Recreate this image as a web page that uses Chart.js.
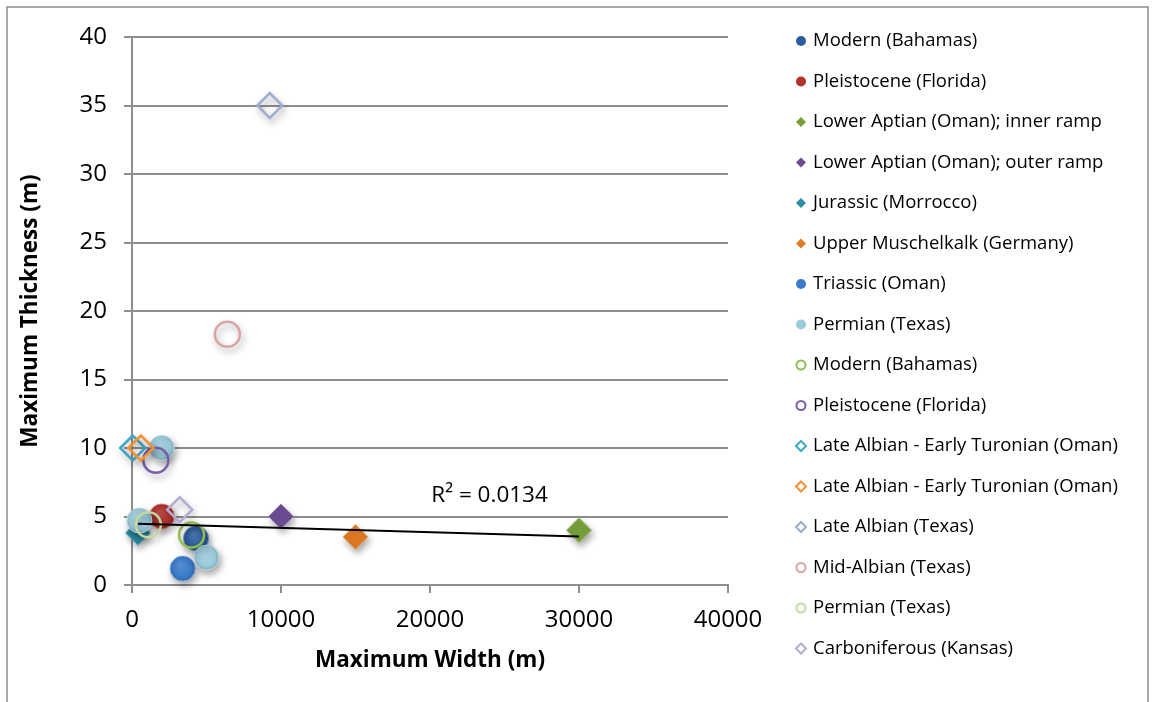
<!DOCTYPE html>
<html>
<head>
<meta charset="utf-8">
<title>Maximum Width vs Maximum Thickness</title>
<script src="https://cdn.jsdelivr.net/npm/chart.js@4.4.1/dist/chart.umd.min.js"></script>
<style>
  html, body { margin: 0; padding: 0; background: #fff; }
  #wrap { position: relative; width: 1157px; height: 702px; }
</style>
</head>
<body>
<div id="wrap"><canvas id="scatter" width="1157" height="702"></canvas></div>
<script>
// series names, in legend order
const seriesNames = [
  'Modern (Bahamas)',
  'Pleistocene (Florida)',
  'Lower Aptian (Oman); inner ramp',
  'Lower Aptian (Oman); outer ramp',
  'Jurassic (Morrocco)',
  'Upper Muschelkalk (Germany)',
  'Triassic (Oman)',
  'Permian (Texas)',
  'Modern (Bahamas)',
  'Pleistocene (Florida)',
  'Late Albian - Early Turonian (Oman)',
  'Late Albian - Early Turonian (Oman)',
  'Late Albian (Texas)',
  'Mid-Albian (Texas)',
  'Permian (Texas)',
  'Carboniferous (Kansas)'
];

// maximum width (m) per series
const maxWidth = [
  [4300], [2000], [30000], [10000], [400], [15000], [3400], [2000, 500, 5000],
  [4000], [1600], [50], [600], [9250], [6400], [1100], [3200]
];

// maximum thickness (m) per series
const maxThickness = [
  [3.4], [5], [4], [5], [3.8], [3.5], [1.2], [10, 4.7, 2],
  [3.65], [9.1], [10], [10], [35], [18.3], [4.4], [5.5]
];

const xTicks = [0, 10000, 20000, 30000, 40000];
const yTicks = [0, 5, 10, 15, 20, 25, 30, 35, 40];
const rSquaredText = 'R\u00b2 = 0.0134';

// marker look
const colors = [
  '#2c5e9e', '#b3302c', '#77a03b', '#6b4c93', '#2b8ea6', '#e07a23', '#3a7bcb', '#9ccbdc',
  '#93bd4c', '#7a5eaa', '#40a8c4', '#f59236', '#9eaed0', '#d9a3a3', '#c4d9a0', '#b4aad2'
];
const shapes = [
  'circle', 'circle', 'rectRot', 'rectRot', 'rectRot', 'rectRot', 'circle', 'circle',
  'circle', 'circle', 'rectRot', 'rectRot', 'rectRot', 'circle', 'circle', 'rectRot'
];
const filled = [true, true, true, true, true, true, true, true,
                false, false, false, false, false, false, false, false];

const FONT = "'Open Sans', 'Noto Sans', sans-serif";

function shade(hex, amt) {
  const n = parseInt(hex.slice(1), 16);
  let r = (n >> 16) & 255, g = (n >> 8) & 255, b = n & 255;
  const f = c => Math.max(0, Math.min(255, Math.round(amt >= 0 ? c + (255 - c) * amt : c * (1 + amt))));
  return `rgb(${f(r)},${f(g)},${f(b)})`;
}

// least squares line over the filled series
function trendLine() {
  const xs = [], ys = [];
  for (let i = 0; i < 8; i++) {
    maxWidth[i].forEach((x, j) => { xs.push(x); ys.push(maxThickness[i][j]); });
  }
  const n = xs.length;
  const mx = xs.reduce((a, b) => a + b, 0) / n;
  const my = ys.reduce((a, b) => a + b, 0) / n;
  let sxy = 0, sxx = 0;
  for (let k = 0; k < n; k++) {
    sxy += (xs[k] - mx) * (ys[k] - my);
    sxx += (xs[k] - mx) ** 2;
  }
  const slope = sxy / sxx;
  const icpt = my - slope * mx;
  const x0 = Math.min(...xs), x1 = Math.max(...xs);
  return [{ x: x0, y: icpt + slope * x0 }, { x: x1, y: icpt + slope * x1 }];
}

// shaded fill for the solid round markers
function markerFill(i) {
  return function (ctx) {
    const base = colors[i];
    if (shapes[i] !== 'circle' || ctx.type !== 'data' || !ctx.parsed) return base;
    const c = ctx.chart;
    const px = c.scales.x.getPixelForValue(ctx.parsed.x);
    const py = c.scales.y.getPixelForValue(ctx.parsed.y);
    if (!isFinite(px) || !isFinite(py)) return base;
    const r = 12.5;
    const g = c.ctx.createRadialGradient(px - r * 0.2, py - r * 0.35, 1, px, py, r);
    g.addColorStop(0, shade(base, 0.15));
    g.addColorStop(0.75, base);
    g.addColorStop(1, shade(base, -0.15));
    return g;
  };
}

const datasets = seriesNames.map((name, i) => ({
  label: name,
  data: maxWidth[i].map((x, j) => ({ x: x, y: maxThickness[i][j] })),
  pointStyle: shapes[i],
  pointRadius: 12.5,
  pointHoverRadius: 12.5,
  backgroundColor: filled[i] ? markerFill(i) : 'rgba(0,0,0,0)',
  borderColor: filled[i] ? shade(colors[i], 0.35) : colors[i],
  borderWidth: filled[i] ? 1 : 2.5,
  showLine: false,
  clip: false,
  order: -i
}));

datasets.push({
  label: 'trend',
  type: 'line',
  data: trendLine(),
  borderColor: '#000',
  borderWidth: 2,
  pointRadius: 0,
  fill: false,
  clip: false,
  order: -100
});

// soft drop shadow under the markers
const markerShadow = {
  id: 'markerShadow',
  beforeDatasetDraw(chart, args) {
    if (args.index >= seriesNames.length) return;
    const ctx = chart.ctx;
    ctx.save();
    ctx.shadowColor = 'rgba(0,0,0,0.35)';
    ctx.shadowBlur = 7;
    ctx.shadowOffsetX = 2;
    ctx.shadowOffsetY = 4;
  },
  afterDatasetDraw(chart, args) {
    if (args.index >= seriesNames.length) return;
    chart.ctx.restore();
  }
};

// outer frame, R² label and the series key on the right
const decorations = {
  id: 'decorations',
  beforeDraw(chart) {
    const ctx = chart.ctx;
    ctx.save();
    ctx.strokeStyle = '#8c8c8c';
    ctx.lineWidth = 1.5;
    ctx.strokeRect(7, 7, 1141, 720);
    ctx.restore();
  },
  afterDraw(chart) {
    const ctx = chart.ctx;
    const { x, y } = chart.scales;
    ctx.save();
    ctx.fillStyle = '#000';
    ctx.font = `22.5px ${FONT}`;
    ctx.textAlign = 'center';
    ctx.textBaseline = 'middle';
    ctx.fillText(rSquaredText, x.getPixelForValue(24000), y.getPixelForValue(6.5));

    ctx.font = `18.5px ${FONT}`;
    ctx.textAlign = 'left';
    seriesNames.forEach((name, i) => {
      const cy = 41 + i * 40.5;
      const cx = 801;
      const r = 5;
      ctx.beginPath();
      if (shapes[i] === 'circle') {
        ctx.arc(cx, cy, filled[i] ? r : r - 0.5, 0, Math.PI * 2);
      } else {
        ctx.moveTo(cx - r, cy);
        ctx.lineTo(cx, cy - r);
        ctx.lineTo(cx + r, cy);
        ctx.lineTo(cx, cy + r);
        ctx.closePath();
      }
      if (filled[i]) {
        ctx.fillStyle = colors[i];
        ctx.fill();
      } else {
        ctx.strokeStyle = colors[i];
        ctx.lineWidth = 2;
        ctx.stroke();
      }
      ctx.fillStyle = '#000';
      ctx.fillText(name, 813, cy);
    });
    ctx.restore();
  }
};

const axisGrey = '#8e8e8e';

new Chart(document.getElementById('scatter'), {
  type: 'scatter',
  data: { datasets: datasets },
  options: {
    responsive: false,
    animation: false,
    events: [],
    layout: { padding: { top: 37, left: 0, right: 429, bottom: 0 } },
    plugins: {
      legend: { display: false },
      tooltip: { enabled: false }
    },
    scales: {
      x: {
        type: 'linear',
        min: xTicks[0],
        max: xTicks[xTicks.length - 1],
        afterBuildTicks: s => { s.ticks = xTicks.map(v => ({ value: v })); },
        afterFit: s => { s.height = 117; },
        ticks: {
          color: '#000',
          font: { family: FONT, size: 24 },
          padding: 13,
          maxRotation: 0,
          callback: v => String(v)
        },
        grid: { drawOnChartArea: false, drawTicks: true, tickLength: 8, color: axisGrey, lineWidth: 2 },
        border: { display: true, color: axisGrey, width: 2 },
        title: {
          display: true,
          text: 'Maximum Width (m)',
          color: '#000',
          font: { family: FONT, size: 22.5, weight: 'bold' },
          padding: { top: 0, bottom: 28 }
        }
      },
      y: {
        type: 'linear',
        min: yTicks[0],
        max: yTicks[yTicks.length - 1],
        afterBuildTicks: s => { s.ticks = yTicks.map(v => ({ value: v })); },
        afterFit: s => { s.width = 132; },
        ticks: { color: '#000', font: { family: FONT, size: 24 }, padding: 17 },
        grid: { color: axisGrey, lineWidth: 2, tickLength: 8 },
        border: { display: true, color: axisGrey, width: 2 },
        title: {
          display: true,
          text: 'Maximum Thickness (m)',
          color: '#000',
          font: { family: FONT, size: 22.5, weight: 'bold' },
          padding: { top: 17, bottom: 0 }
        }
      }
    }
  },
  plugins: [markerShadow, decorations]
});
</script>
</body>
</html>
